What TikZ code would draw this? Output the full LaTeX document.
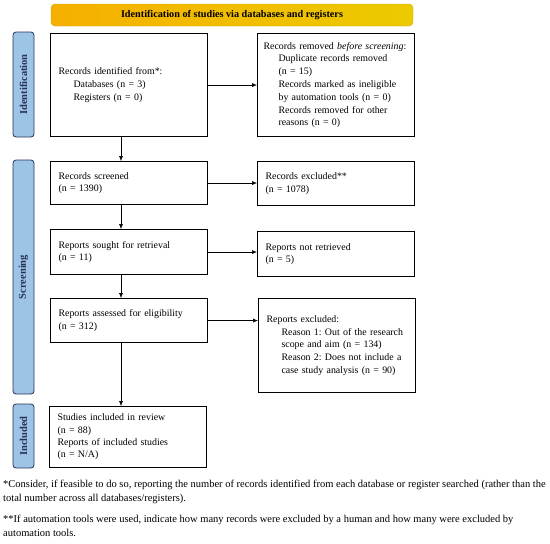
\documentclass[tikz,border=0pt]{standalone}
\usepackage{fontspec}
\setmainfont{Liberation Serif}
\usetikzlibrary{arrows.meta}
\definecolor{phaseblue}{RGB}{157,195,230}
\definecolor{phaseline}{RGB}{40,50,85}
\definecolor{bannerleft}{RGB}{246,176,0}
\definecolor{bannerright}{RGB}{236,202,0}
\definecolor{bannerline}{RGB}{205,165,0}
\newcommand{\ind}{\hspace*{15pt}}
\frenchspacing
\begin{document}
\begin{tikzpicture}[x=1pt,y=-1pt,
    box/.style={draw,line width=1.1pt,anchor=north west,align=left,inner xsep=8pt,
        minimum width=157pt,text width=141pt,font=\fontsize{9.9}{12.8}\selectfont},
    phase/.style={draw=phaseline,fill=phaseblue,rounded corners=3pt,line width=0.8pt,
        minimum height=21pt,rotate=90,font=\bfseries\fontsize{10.5}{11}\selectfont,text=phaseline},
    flow/.style={-{Latex[length=5pt,width=4pt]},line width=0.5pt},
    note/.style={anchor=north west,align=left,inner sep=0pt,font=\fontsize{10.5}{14}\selectfont}]
    \useasboundingbox (0,0) rectangle (550,544);
    \node[draw=bannerline,left color=bannerleft,right color=bannerright,rounded corners=4pt,
        minimum width=362pt,minimum height=22pt,font=\bfseries\fontsize{10.2}{11}\selectfont] (title) at (232,15)
        {Identification of studies via databases and registers};
    % phases
    \node[phase,minimum width=105pt] (idphase) at (23.5,84.5) {Identification};
    \node[phase,minimum width=234pt] (scphase) at (23.5,277) {Screening};
    \node[phase,minimum width=64pt] (inphase) at (23.5,436) {Included};
    % boxes
    \node[box,minimum height=103pt] (ident) at (50,33)
        {Records identified from*:\\\ind Databases (n = 3)\\\ind Registers (n = 0)};
    \node[box,minimum height=103pt,inner xsep=6pt,text width=145pt] (removed) at (257,33)
        {Records removed \emph{before screening}:\\\ind Duplicate records removed\\\ind (n = 15)\\
        \ind Records marked as ineligible\\\ind by automation tools (n = 0)\\
        \ind Records removed for other\\\ind reasons (n = 0)};
    \node[box,minimum height=43pt] (screened) at (50,161) {Records screened\\(n = 1390)};
    \node[box,minimum height=44pt] (excluded) at (257,161) {Records excluded**\\(n = 1078)};
    \node[box,minimum height=45pt] (sought) at (50,229) {Reports sought for retrieval\\(n = 11)};
    \node[box,minimum height=45pt] (notret) at (257,231) {Reports not retrieved\\(n = 5)};
    \node[box,minimum height=44pt] (assessed) at (50,298) {Reports assessed for eligibility\\(n = 312)};
    \node[box,minimum height=94pt] (repexcl) at (258,298)
        {Reports excluded:\\\ind Reason 1: Out of the research\\\ind scope and aim (n = 134)\\
        \ind Reason 2: Does not include a\\\ind case study analysis (n = 90)};
    \node[box,minimum height=61pt,font=\fontsize{9.9}{12.3}\selectfont] (included) at (49,406)
        {Studies included in review\\(n = 88)\\Reports of included studies\\(n = N/A)};
    % arrows
    \coordinate (spine) at (121,0);
    \draw[flow] (ident.south -| spine) -- (screened.north -| spine);
    \draw[flow] (screened.south -| spine) -- (sought.north -| spine);
    \draw[flow] (sought.south -| spine) -- (assessed.north -| spine);
    \draw[flow] (assessed.south -| spine) -- (included.north -| spine);
    \draw[flow] (ident.east) -- (ident.east -| removed.west);
    \draw[flow] (screened.east) -- (screened.east -| excluded.west);
    \draw[flow] (sought.east) -- (sought.east -| notret.west);
    \draw[flow] (assessed.east) -- (assessed.east -| repexcl.west);
    % notes
    \node[note] (fn1) at (3,480)
        {*Consider, if feasible to do so, reporting the number of records identified from each database or register searched (rather than the\\
        total number across all databases/registers).};
    \node[note] (fn2) at (3,515)
        {**If automation tools were used, indicate how many records were excluded by a human and how many were excluded by\\
        automation tools.};
\end{tikzpicture}
\end{document}
